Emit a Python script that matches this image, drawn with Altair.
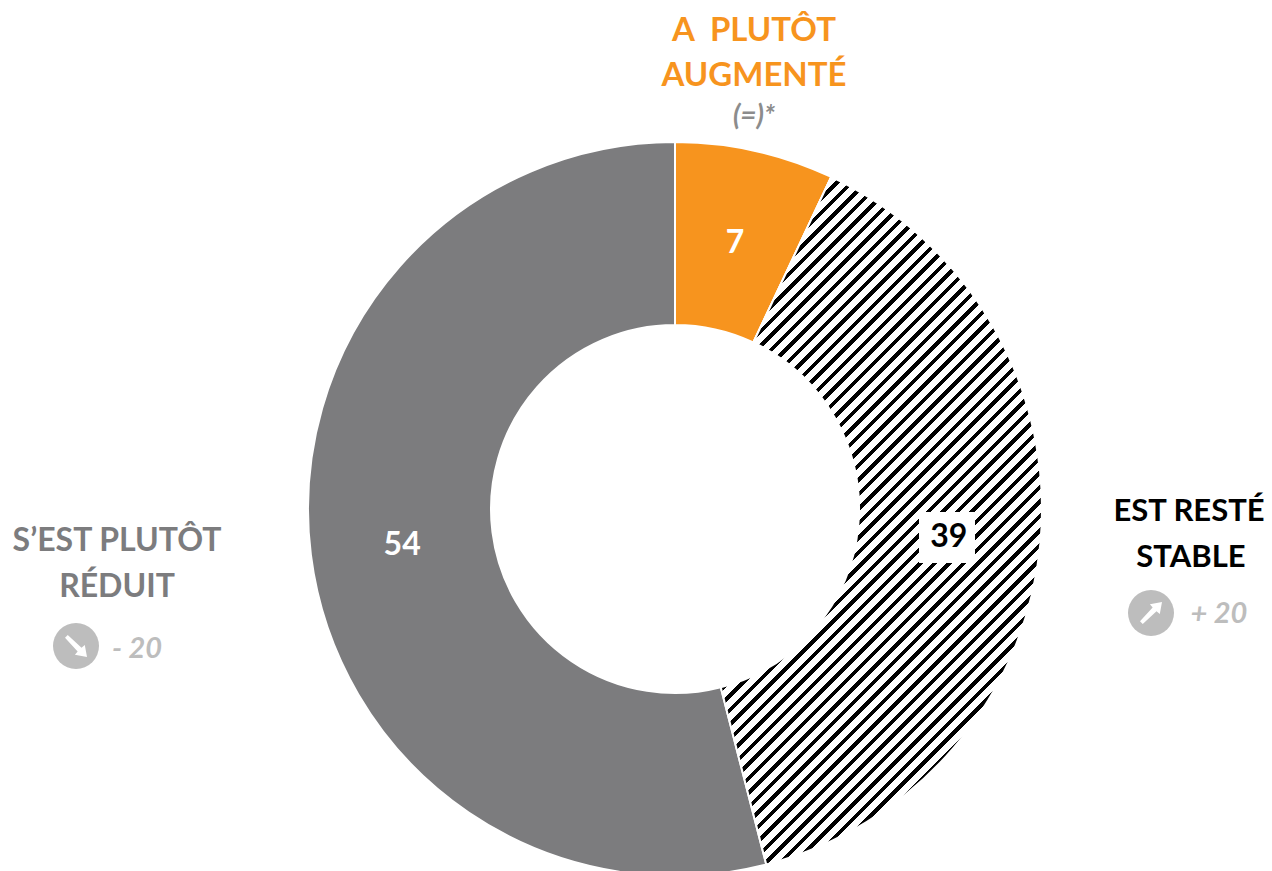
import altair as alt
import pandas as pd

# Slices
slices = ["A plutôt augmenté", "Est resté stable", "S'est plutôt réduit"]
values = [7, 39, 54]
order = [1, 2, 3]
colors = ["#F7941E", "#FFFFFF", "#7C7C7E"]
label_colors = ["#FFFFFF", "#000000", "#FFFFFF"]

# Annotations
ann_text = ["A\u00a0\u00a0PLUTÔT", "AUGMENTÉ", "(=)*", "EST RESTÉ", "STABLE", "+ 20", "S’EST PLUTÔT", "RÉDUIT", "- 20"]
ann_x = [746, 746, 746, 1181, 1183, 1211, 109, 109, 129]
ann_y = [23, 68, 109, 504, 550, 606, 533, 579, 641]
ann_color = ["#F7941E", "#F7941E", "#8C8C8C", "#000000", "#000000", "#BDBDBD", "#7C7C7E", "#7C7C7E", "#BDBDBD"]
ann_style = ["normal", "normal", "italic", "normal", "normal", "italic", "normal", "normal", "italic"]
ann_size = [33, 33, 28, 31, 31, 29, 32, 32, 29]

# Trend badges
badge_x = [1143, 68]
badge_y = [605, 638]
badge_angle = [0, 90]

CX, CY, R_OUT, R_IN, R_LABEL = 667, 501, 367, 184, 275
FONT = "Lato"

# Hatch style: diagonal stripes as a hard-stop gradient over the slice's box
BOX_W, BOX_H = 321.0, 687.6
PERIOD, BLACK, PHASE = 14.5, 5.5, 3.0
k = (BOX_W + BOX_H) / (BOX_W ** 2 + BOX_H ** 2)
span = BOX_W + BOX_H
stops = []
stripe = PHASE - PERIOD
while stripe < span:
    a = max(stripe, 0) / span
    b = min(max(stripe + BLACK, 0), span) / span
    c = min(max(stripe + PERIOD, 0), span) / span
    stops += [
        alt.GradientStop(offset=a, color="#000000"),
        alt.GradientStop(offset=b, color="#000000"),
        alt.GradientStop(offset=b, color="#FFFFFF"),
        alt.GradientStop(offset=c, color="#FFFFFF"),
    ]
    stripe += PERIOD
hatch = alt.LinearGradient(gradient="linear", x1=0, y1=0, x2=k * BOX_W, y2=k * BOX_H, stops=stops)

df = pd.DataFrame({"slice": slices, "value": values, "order": order, "color": colors, "label_color": label_colors})
ann = pd.DataFrame({"text": ann_text, "x": ann_x, "y": ann_y, "color": ann_color, "style": ann_style, "size": ann_size})
badges = pd.DataFrame({"x": badge_x, "y": badge_y, "angle": badge_angle})

theta_scale = alt.Scale(domain=[0, 100])
stacked = alt.Chart(df).transform_stack(
    stack="value", groupby=[], as_=["t0", "t1"], sort=[alt.SortField("order", order="ascending")]
).transform_calculate(mid="(datum.t0 + datum.t1) / 2")

pos = dict(
    x=alt.value(CX), y=alt.value(CY),
    theta=alt.Theta("t0:Q", scale=theta_scale),
    theta2=alt.Theta2("t1:Q"),
)

arcs = stacked.mark_arc(radius=R_OUT, radius2=R_IN, stroke="#FFFFFF", strokeWidth=2).encode(
    fill=alt.Fill("color:N", scale=None), **pos
)
hatched = stacked.transform_filter(alt.datum.order == 2).mark_arc(
    radius=R_OUT, radius2=R_IN, fill=hatch, stroke="#FFFFFF", strokeWidth=2
).encode(**pos)

label_box = alt.Chart(df).transform_filter(alt.datum.order == 2).mark_rect(fill="#FFFFFF").encode(
    x=alt.value(911), x2=alt.value(967), y=alt.value(504), y2=alt.value(555)
)
labels = stacked.mark_text(radius=R_LABEL, font=FONT, fontWeight="bold", fontSize=32, baseline="middle", align="center", dy=2).encode(
    x=alt.value(CX), y=alt.value(CY),
    theta=alt.Theta("mid:Q", scale=theta_scale),
    text=alt.Text("value:Q"),
    color=alt.Color("label_color:N", scale=None),
)


def ann_layer(style):
    return alt.Chart(ann).transform_filter(alt.datum.style == style).mark_text(
        font=FONT, fontWeight="bold", fontStyle=style, baseline="middle", align="center"
    ).encode(
        x=alt.X("x:Q", scale=None), y=alt.Y("y:Q", scale=None),
        text="text:N",
        color=alt.Color("color:N", scale=None),
        size=alt.Size("size:Q", scale=None),
    )


discs = alt.Chart(badges).mark_point(shape="circle", filled=True, color="#BDBDBD", size=2116, opacity=1).encode(
    x=alt.X("x:Q", scale=None), y=alt.Y("y:Q", scale=None)
)
arrows = alt.Chart(badges).mark_point(
    shape="M1,-1 L-0.1,-0.8 L0.15,-0.5 L-1,0.75 L-0.75,1 L0.5,-0.15 L0.8,0.1 Z",
    filled=True, color="#FFFFFF", size=484, opacity=1,
).encode(
    x=alt.X("x:Q", scale=None), y=alt.Y("y:Q", scale=None),
    angle=alt.Angle("angle:Q", scale=None),
)

chart = alt.layer(arcs, hatched, label_box, labels, ann_layer("normal"), ann_layer("italic"), discs, arrows).properties(
    width=1256, height=863, padding=0, background="#FFFFFF",
    autosize=alt.AutoSizeParams(type="none"),
).configure_view(stroke=None)

chart.save("out.html", embed_options={"renderer": "svg", "actions": False})
